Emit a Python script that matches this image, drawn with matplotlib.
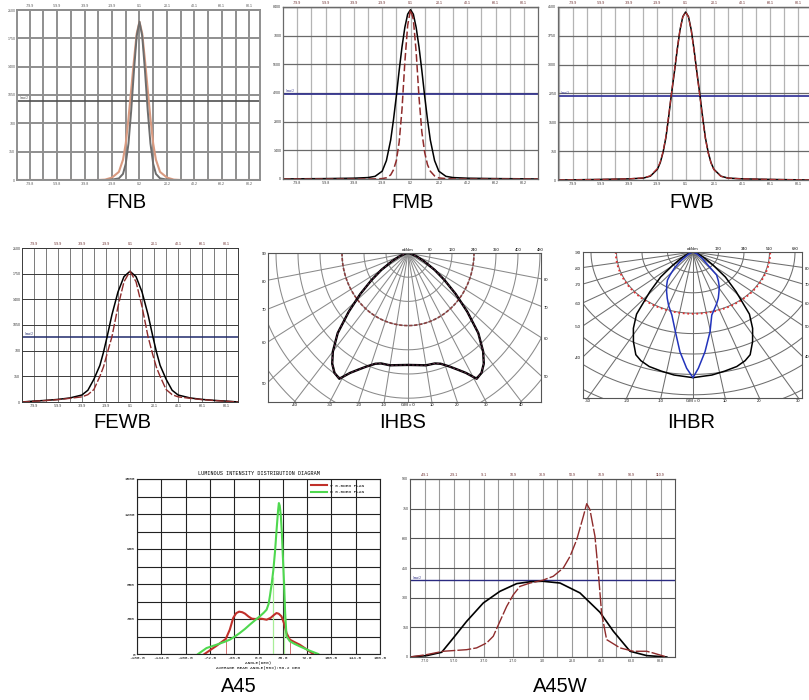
import numpy as np
import matplotlib
matplotlib.use('Agg')
import matplotlib.pyplot as plt

plt.rcParams['font.family'] = ['Liberation Sans', 'DejaVu Sans']
MONO = ['Liberation Mono', 'DejaVu Sans Mono']

# ---------------- data ----------------
# FNB
fnb_ang = [-89, -30, -25, -20, -15, -12, -10, -8, -6, -4, -2, 0, 2, 4, 6, 8, 10, 12, 15, 20, 25, 30, 88]
fnb_c0 = [0, 0, 0, 5, 20, 75, 200, 450, 860, 1352, 1780, 1955, 1780, 1352, 860, 450, 200, 75, 20, 5, 0, 0, 0]
fnb_c90 = [0, 0, 5, 30, 100, 250, 450, 760, 1120, 1480, 1810, 1955, 1810, 1480, 1120, 760, 450, 250, 100, 30, 5, 0, 0]

# FMB
fmb_ang = [-90, -80, -60, -40, -30, -25, -20, -17, -14, -12, -10, -8, -6, -4, -2, 0,
           2, 4, 6, 8, 10, 12, 14, 17, 20, 25, 30, 40, 60, 80, 90]
fmb_c0 = [0, 10, 20, 40, 70, 130, 380, 900, 1900, 2900, 4050, 5300, 6450, 7400, 8050, 8270,
          8050, 7400, 6450, 5300, 4050, 2900, 1900, 900, 380, 130, 70, 40, 20, 10, 0]
fmb_c90 = [0, 0, 0, 0, 0, 5, 20, 60, 200, 450, 900, 1800, 3400, 5700, 7500, 8270,
           7800, 6200, 4000, 2300, 1300, 700, 380, 150, 50, 20, 5, 0, 0, 0, 0]

# FWB
fwb_ang = [-90, -80, -60, -40, -30, -25, -20, -18, -16, -14, -12, -10, -8, -6, -4, -2, 0,
           2, 4, 6, 8, 10, 12, 14, 16, 18, 20, 25, 30, 40, 60, 80, 90]
fwb_c0 = [0, 5, 15, 30, 50, 100, 280, 450, 720, 1100, 1650, 2250, 2800, 3380, 3900, 4250, 4370,
          4250, 3900, 3380, 2800, 2250, 1650, 1100, 720, 450, 280, 100, 50, 30, 15, 5, 0]
fwb_c90 = [0, 5, 15, 30, 55, 110, 300, 470, 740, 1130, 1680, 2270, 2820, 3400, 3910, 4240, 4370,
           4240, 3880, 3350, 2760, 2200, 1610, 1070, 700, 440, 270, 95, 50, 30, 15, 5, 0]

# FEWB
fewb_ang = [-90, -80, -70, -60, -50, -40, -35, -30, -25, -22, -19, -15, -10, -5, 0,
            5, 10, 15, 19, 22, 25, 30, 35, 40, 50, 60, 70, 80, 90]
fewb_c0 = [0, 12, 22, 35, 55, 95, 160, 310, 500, 680, 890, 1190, 1500, 1710, 1782,
           1710, 1500, 1190, 890, 680, 500, 310, 160, 95, 55, 35, 22, 12, 0]
fewb_c90 = [0, 10, 20, 32, 50, 70, 100, 170, 350, 480, 660, 890, 1300, 1640, 1782,
            1640, 1300, 890, 640, 470, 350, 170, 100, 70, 50, 32, 20, 10, 0]

# IHBS (polar, cd/klm, gamma from nadir, symmetric)
ihbs_ang = [0, 5, 10, 15, 18, 22, 25, 28, 31, 34, 37, 40, 44, 48, 52, 56, 60, 65, 70, 80, 90]
ihbs_val = [370, 372, 377, 378, 385, 405, 425, 449, 485, 478, 458, 425, 368, 290, 220, 160, 112, 65, 35, 8, 0]
ihbs_ref = 240

# IHBR (polar)
ihbr_ang = [0, 7, 12, 17, 21, 24, 28, 32, 36, 41, 46, 51, 56, 62, 70, 80, 90]
ihbr_c0 = [1047, 1033, 1015, 998, 970, 937, 846, 750, 640, 438, 300, 170, 100, 55, 25, 8, 0]
ihbr_c90_ang = [-90, -60, -55, -47, -43, -38.6, -36, -32.5, -28, -24, -20, -15, -10, -6, -2.5, 0,
                2.1, 5.5, 9.7, 13.4, 16.2, 20, 23.6, 27, 31.2, 35, 39.4, 44.6, 50, 60, 90]
ihbr_c90 = [0, 30, 50, 119, 180, 245, 290, 326, 375, 422, 475, 544, 675, 835, 970, 1047,
            970, 835, 674, 540, 503, 460, 421, 380, 338, 295, 248, 114, 75, 30, 0]
ihbr_ref = 515

# A45
a45_red_ang = [-80, -62, -48.5, -42.5, -37.5, -33, -28.7, -24, -20, -15, -10, -5, 0, 5, 12, 18,
               23, 26.7, 30, 34, 38, 41.5, 46.5, 54, 61, 70, 81]
a45_red = [0, 71, 129, 209, 309, 350, 363, 358, 346, 322, 303, 300, 303, 302, 294, 310,
           335, 351, 345, 323, 260, 180, 123, 100, 80, 45, 0]
a45_grn_ang = [-89.5, -77, -62, -50, -42.5, -35, -27.7, -20, -13, -5, 2, 8, 12, 15, 17, 19.5, 22,
               24.5, 27, 29, 30.2, 31.5, 33, 34.5, 36, 37.6, 39.5, 41.5, 46.5, 54, 61, 75, 88.5]
a45_grn = [0, 51, 80, 105, 123, 150, 180, 215, 251, 290, 323, 355, 380, 430, 500, 600, 720,
           880, 1080, 1230, 1294, 1270, 1190, 1050, 850, 637, 350, 151, 109, 85, 66, 30, 0]
a45_red_beam = [-48.5, 46.5]
a45_grn_beam = [20.8, 37.6]

# A45W
a45w_c0_ang = [-87, -75.7, -65.5, -57.6, -48.6, -37.3, -26, -14.6, -5, 3, 14.8, 28.3, 41.9, 51, 62.3, 73.6, 87.2]
a45w_c0 = [0, 7, 24, 96, 180, 273, 332, 371, 381, 383, 374, 324, 226, 130, 29, 7, 0]
a45w_c90_ang = [-87, -75.7, -64.4, -48.6, -41.8, -35, -30.5, -26, -21.4, -16.9, -12.4, -5.6, 3, 10.2,
                17, 21.6, 26.1, 30.6, 32.9, 35.1, 38.5, 40.8, 43, 46.4, 55.5, 64.5, 73.6, 78.1, 87.2]
a45w_c90 = [0, 12, 29, 37, 46, 71, 105, 180, 256, 315, 357, 374, 388, 408,
            450, 509, 593, 711, 775, 745, 610, 425, 222, 88, 46, 29, 29, 20, 0]

lab_a = ['-79.9', '-59.9', '-39.9', '-19.9', '0.1', '20.1', '40.1', '60.1', '80.1']
lab_b = ['-79.8', '-59.8', '-39.8', '-19.8', '0.2', '20.2', '40.2', '60.2', '80.2']
a45w_top = ['-49.1', '-29.1', '-9.1', '10.9', '30.9', '50.9', '70.9', '90.9', '110.9']
a45w_bot = ['-77.0', '-57.0', '-37.0', '-17.0', '3.0', '23.0', '43.0', '63.0', '83.0']

# ---------------- layout ----------------
W, H = 809, 700
fig = plt.figure(figsize=(W / 100, H / 100), dpi=100)


def px_axes(x0, y0, x1, y1):
    return fig.add_axes([x0 / W, 1 - y1 / H, (x1 - x0) / W, (y1 - y0) / H])


def beam_panel(box, xlim, ymax, ystep, centre, top_lab, bot_lab, vcol, hcol, frame,
               lw=0.8, lab_col='#333333', top_col='#6b2b2b'):
    ax = px_axes(*box)
    ax.set_xlim(*xlim)
    ax.set_ylim(0, ymax)
    major = centre + np.arange(-4, 5) * 20
    ax.set_xticks(major, bot_lab)
    yt = np.arange(0, ymax + 1, ystep)
    ax.set_yticks(yt, [str(int(v)) for v in yt])
    ax.tick_params(which='both', length=0, labelsize=2.6, pad=1.2, colors=lab_col)
    # every 10 degrees a vertical grid line
    vlines = centre + np.arange(-9, 10) * 10
    vlines = vlines[(vlines > xlim[0]) & (vlines < xlim[1])]
    for v in vlines:
        ax.axvline(v, color=vcol, lw=lw, zorder=0.5)
    ax.grid(axis='y', color=hcol, lw=lw)
    ax.set_axisbelow(True)
    for s in ax.spines.values():
        s.set_color(frame)
        s.set_linewidth(lw)
    sec = ax.secondary_xaxis('top')
    sec.set_xticks(major, top_lab)
    sec.tick_params(length=0, labelsize=2.6, pad=1.2, colors=top_col)
    sec.spines['top'].set_color(frame)
    sec.spines['top'].set_linewidth(lw)
    return ax


def half_line(ax, level, color, lw=1.1):
    ax.axhline(level, color=color, lw=lw, zorder=2)
    ax.annotate('Imax/2', (ax.get_xlim()[0], level), xytext=(2, 0.6), textcoords='offset points',
                fontsize=2.2, color=color, va='bottom')


RED = '#8e2b2b'

# FNB
ax = beam_panel((17, 10, 260, 180), (-89.2, 87.8), 2100, 350, 0, lab_a, lab_b,
                '#8f8f8f', '#8f8f8f', '#8f8f8f', lw=1.4, lab_col='#555555', top_col='#555555')
half_line(ax, max(fnb_c0) / 2, '#505050', lw=1.2)
ax.plot(fnb_ang, fnb_c90, color='#d99a80', lw=1.5)
ax.plot(fnb_ang, fnb_c0, color='#6d6d6d', lw=1.4)

# FMB
ax = beam_panel((283, 7, 538, 179), (-90, 90), 8400, 1400, 0, lab_a, lab_b,
                '#b4b4b4', '#6a6a6a', '#6a6a6a', lw=0.9)
half_line(ax, max(fmb_c0) / 2, '#36368e', lw=1.3)
ax.plot(fmb_ang, fmb_c0, color='black', lw=1.1)
ax.plot(fmb_ang, fmb_c90, color=RED, lw=1.1, dashes=(5, 2))

# FWB
ax = beam_panel((558, 7, 812, 180), (-90.5, 89.6), 4500, 750, 0, lab_a, lab_a,
                '#b4b4b4', '#6a6a6a', '#6a6a6a', lw=0.9)
ax.spines['right'].set_visible(False)
half_line(ax, max(fwb_c0) / 2, '#3a3a9c', lw=1.3)
ax.plot(fwb_ang, fwb_c0, color='black', lw=1.1)
ax.plot(fwb_ang, fwb_c90, color='#b03030', lw=0.9, dashes=(5, 2))

# FEWB
ax = beam_panel((22, 248, 238, 402), (-89.7, 89.7), 2100, 350, 0, lab_a, lab_a,
                '#7a7a7a', '#3a3a3a', '#3a3a3a', lw=0.7)
half_line(ax, max(fewb_c0) / 2, '#1f2a6b', lw=1.1)
ax.plot(fewb_ang, fewb_c0, color='black', lw=1.1)
ax.plot(fewb_ang, fewb_c90, color=RED, lw=1.0, dashes=(6, 1.5))

# A45W
ax = beam_panel((410, 479, 675, 657), (-87, 92.8), 900, 150, 3, a45w_top, a45w_bot,
                '#9a9a9a', '#555555', '#555555', lw=0.8)
half_line(ax, max(a45w_c90) / 2, '#2a2a80', lw=1.0)
ax.plot(a45w_c0_ang, a45w_c0, color='black', lw=1.2)
ax.plot(a45w_c90_ang, a45w_c90, color=RED, lw=1.0, dashes=(10, 1.5))


# polar panels
def polar_panel(box, cx, sx, sy, rings, top_lab, bot_ang, left_ang, left_lab, right_ang, grid_col):
    x0, y0, x1, y1 = box
    ax = px_axes(*box)
    xl = ((x0 - cx) / sx, (x1 - cx) / sx)
    yb = -(y1 - y0) / sy
    ax.set_xlim(*xl)
    ax.set_ylim(yb, 0)
    ax.set_xticks([])
    ax.set_yticks([])
    for s in ax.spines.values():
        s.set_color('#555555')
        s.set_linewidth(0.8)
    t = np.linspace(0, 2 * np.pi, 721)
    for r in rings:
        ax.plot(r * np.cos(t), r * np.sin(t), color=grid_col, lw=0.75)
    L = 10 * max(abs(xl[0]), abs(yb))
    for a in range(-90, 91, 10):
        ar = np.radians(a)
        ax.plot([0, L * np.sin(ar)], [0, -L * np.cos(ar)], color=grid_col, lw=0.75)
    fs = 3.0
    for r, s in zip([0] + list(rings), top_lab):
        ax.annotate(s, (r, 0), xytext=(0, 1), textcoords='offset points', ha='center',
                    va='bottom', fontsize=fs, annotation_clip=False)
    for a in bot_ang:
        s = 'GM = 0' if a == 0 else str(a)
        ax.annotate(s, (np.tan(np.radians(a)) * -yb, yb), xytext=(0, -1), textcoords='offset points',
                    ha='center', va='top', fontsize=fs, annotation_clip=False)
    for a, s in zip(left_ang, left_lab):
        ax.annotate(s, (xl[0], xl[0] / np.tan(np.radians(a))), xytext=(-1.5, -1),
                    textcoords='offset points', ha='right', va='center', fontsize=fs,
                    annotation_clip=False)
    for a in right_ang:
        ax.annotate(str(a), (xl[1], -xl[1] / np.tan(np.radians(a))), xytext=(2, -1),
                    textcoords='offset points', ha='left', va='center', fontsize=fs,
                    annotation_clip=False)
    return ax


def polar_xy(ang, val):
    a = np.radians(np.asarray(ang, dtype=float))
    v = np.asarray(val, dtype=float)
    return v * np.sin(a), -v * np.cos(a)


def mirror(ang, val):
    ang = np.asarray(ang, dtype=float)
    val = np.asarray(val, dtype=float)
    return np.concatenate([-ang[::-1], ang[1:]]), np.concatenate([val[::-1], val[1:]])


ref_t = np.linspace(-90, 90, 181)

# IHBS
ax = polar_panel((268, 253, 541, 402), 408, 0.275, 0.3025, np.arange(80, 801, 80),
                 ['cd/klm', '80', '160', '240', '320', '400', '480'],
                 [-40, -30, -20, -10, 0, 10, 20, 30, 40],
                 [90, 80, 70, 60, 50], ['90', '80', '70', '60', '50'],
                 [80, 70, 60, 50], '#8a8a8a')
x, y = polar_xy(ref_t, np.full_like(ref_t, ihbs_ref))
ax.plot(x, y, color='#8a4040', lw=1.2, dashes=(2, 1))
x, y = polar_xy(*mirror(ihbs_ang, ihbs_val))
ax.plot(x, y, color='black', lw=1.7)
ax.plot(x, y, color='#6a3050', lw=0.6, dashes=(3, 2))

# IHBR
ax = polar_panel((583, 252, 802, 398), 693, 0.15, 0.12, np.arange(170, 1531, 170),
                 ['cd/klm', '170', '340', '510', '680'],
                 [-30, -20, -10, 0, 10, 20, 30],
                 [90, 80, 70, 60, 50, 40], ['-90', '-80', '-70', '-60', '-50', '-40'],
                 [80, 70, 60, 50, 40], '#6e6e6e')
x, y = polar_xy(ref_t, np.full_like(ref_t, ihbr_ref))
ax.plot(x, y, color='#e03030', lw=1.3, ls=(0, (1, 1.5)))
x, y = polar_xy(*mirror(ihbr_ang, ihbr_c0))
ax.plot(x, y, color='black', lw=1.1)
x, y = polar_xy(ihbr_c90_ang, ihbr_c90)
ax.plot(x, y, color='#2233bb', lw=1.1)

# A45
ax = px_axes(137, 479, 380, 654)
ax.set_xlim(-180, 180)
ax.set_ylim(0, 1500)
ax.set_xticks(np.arange(-180, 181, 36), [f'{v:.1f}' for v in np.arange(-180, 181, 36)])
ax.set_yticks(np.arange(0, 1501, 300))
ax.set_yticks(np.arange(0, 1501, 150), minor=True)
ax.tick_params(which='both', length=0, labelsize=3.2, pad=1.5)
for lab in ax.get_xticklabels() + ax.get_yticklabels():
    lab.set_family(MONO)
ax.grid(which='both', color='#222222', lw=0.8)
ax.set_axisbelow(True)
for s in ax.spines.values():
    s.set_color('#222222')
    s.set_linewidth(0.8)
ax.set_title('LUMINOUS INTENSITY DISTRIBUTION DIAGRAM', fontsize=3.7, family=MONO, pad=3)
ax.set_xlabel('ANGLE(DEG)\nAVERAGE BEAM ANGLE(50%):56.2 DEG', fontsize=3.2, family=MONO,
              labelpad=1, linespacing=1.1)
ax.vlines(a45_red_beam, 0, np.interp(a45_red_beam, a45_red_ang, a45_red), color='#d07070', lw=0.7)
ax.vlines(a45_grn_beam, 0, np.interp(a45_grn_beam, a45_grn_ang, a45_grn), color='#a8ee98', lw=0.9)
ax.plot(a45_red_ang, a45_red, color='#c0302a', lw=1.5, label='V 0.0DEG PLAN')
ax.plot(a45_grn_ang, a45_grn, color='#4fd84f', lw=1.5, label='H 0.0DEG PLAN')
ax.legend(loc='upper right', bbox_to_anchor=(0.95, 0.995), frameon=False, handlelength=3.5,
          prop={'family': MONO, 'size': 3.2}, labelspacing=0.6, borderpad=0.3)

# captions
for txt, cx, cy in [('FNB', 126.5, 203), ('FMB', 413, 203), ('FWB', 691.5, 203),
                    ('FEWB', 122.5, 422), ('IHBS', 403, 422), ('IHBR', 691, 423),
                    ('A45', 239, 687), ('A45W', 560, 687)]:
    fig.text(cx / W, 1 - cy / H, txt, ha='center', va='center', fontsize=14.5)

fig.savefig('out.png', dpi=100)
